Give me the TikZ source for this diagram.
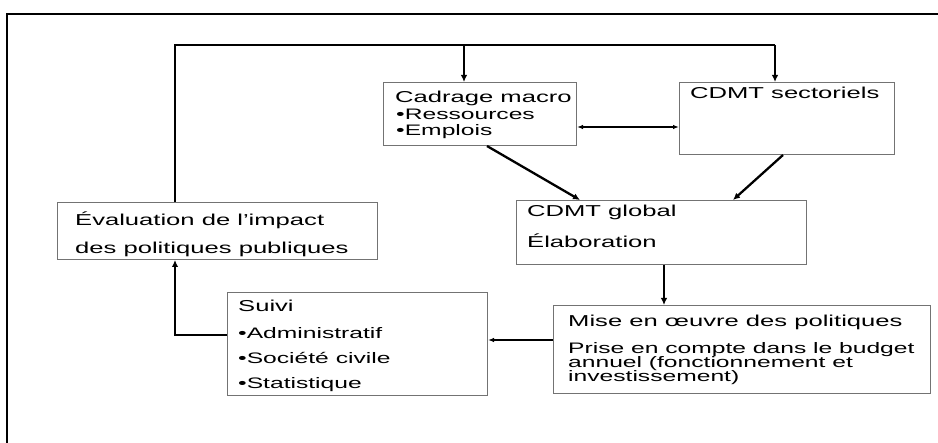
\documentclass[tikz,border=0pt]{standalone}
\usepackage{fontspec}
\setmainfont{Liberation Sans}[FakeStretch=1.62]
\usetikzlibrary{arrows.meta}
\begin{document}
\begin{tikzpicture}[x=1pt,y=-1pt,
  box/.style={draw=black!55, line width=1pt, inner sep=0pt, anchor=north west},
  txt/.style={anchor=base west, inner sep=0pt, font=\fontsize{15.8}{18}\selectfont},
  sub/.style={anchor=base west, inner sep=0pt, font=\fontsize{15.2}{17}\selectfont},
  frameline/.style={line width=2.8pt, line cap=rect},
  loopc/.style={line width=2.8pt, -{Latex[length=7pt,width=6.5pt]}},
  loopl/.style={line width=2.8pt},
  diag/.style={line width=2.3pt, -{Latex[length=7pt,width=6.5pt]}},
  thinc/.style={line width=1.4pt, -{Latex[length=6pt,width=4.5pt]}},
  thinboth/.style={line width=1.4pt, {Latex[length=6pt,width=4.5pt]}-{Latex[length=6pt,width=4.5pt]}}
]
\useasboundingbox (0,0) rectangle (938,443);
\fill[white] (0,0) rectangle (938,443);
% outer frame (cut by the page on the right and bottom)
\coordinate (fbl) at (7,443);
\coordinate (ftl) at (7,14);
\coordinate (ftr) at (938,14);
\draw[frameline] (fbl) -- (ftl) -- (ftr);

% boxes
\node[box, minimum width=193pt, minimum height=63pt] (cad) at (383,82) {};
\node[box, minimum width=215pt, minimum height=72pt] (sect) at (679,82) {};
\node[box, minimum width=290pt, minimum height=64pt] (glob) at (516,200) {};
\node[box, minimum width=320pt, minimum height=57pt] (eval) at (57,202) {};
\node[box, minimum width=260pt, minimum height=103pt] (suivi) at (227,292) {};
\node[box, minimum width=377pt, minimum height=88pt] (mise) at (553,305) {};

% texts
\node[txt] (t1) at (395,103) {Cadrage macro};
\node[sub] (t2) at (396,120) {•Ressources};
\node[sub] (t3) at (396,136) {•Emplois};
\node[txt] (t4) at (690,99) {CDMT sectoriels};
\node[txt] (t5) at (527,217) {CDMT global};
\node[txt] (t6) at (527,248) {Élaboration};
\node[txt] (t7) at (75,226) {Évaluation de l’impact};
\node[txt] (t8) at (75,254) {des politiques publiques};
\node[txt] (t9) at (238,312) {Suivi};
\node[sub] (t10) at (238,339) {•Administratif};
\node[sub] (t11) at (238,364) {•Société civile};
\node[sub] (t12) at (238,389) {•Statistique};
\node[txt] (t13) at (568,327) {Mise en œuvre des politiques};
\node[sub] (t14) at (568,354) {Prise en compte dans le budget};
\node[sub] (t15) at (568,368) {annuel (fonctionnement et};
\node[sub] (t16) at (568,382) {investissement)};

% feedback loop on top
\coordinate (tl) at (175,45);
\coordinate (tm) at (464,45);
\coordinate (tr) at (775,45);
\draw[loopl] (eval.north -| tl) -- (tl) -- (tr);
\draw[loopc] (tr) -- (tr |- sect.north);
\draw[loopc] (tm) -- (tm |- cad.north);

% double arrow between cadrage and sectoriels
\coordinate (da) at (600,127);
\draw[thinboth] (cad.east |- da) -- (sect.west |- da);

% diagonals to CDMT global
\draw[diag] ([xshift=104pt]cad.south west) -- ([xshift=64pt]glob.north west);
\draw[diag] ([xshift=104pt]sect.south west) -- ([xshift=217pt]glob.north west);

% CDMT global -> Mise en oeuvre
\draw[loopc] ([xshift=148pt]glob.south west) -- ([xshift=148pt]glob.south west |- mise.north);

% Mise en oeuvre -> Suivi
\coordinate (ms) at (520,340);
\draw[thinc] (mise.west |- ms) -- (suivi.east |- ms);

% Suivi -> Evaluation
\coordinate (sl) at (175,335);
\draw[loopc] (suivi.west |- sl) -- (sl) -- (sl |- eval.south);
\end{tikzpicture}
\end{document}
